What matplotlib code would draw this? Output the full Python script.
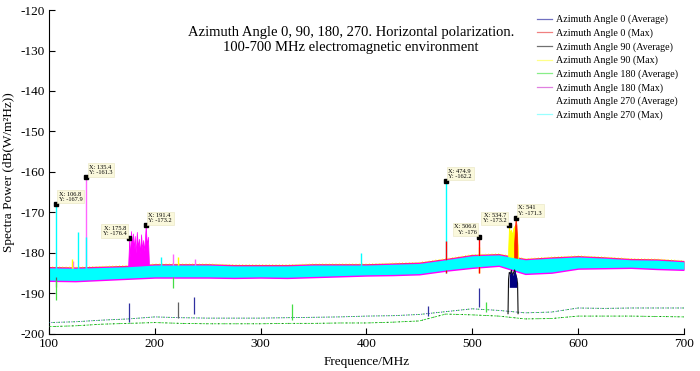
import numpy as np
import matplotlib.pyplot as plt
from matplotlib.lines import Line2D

plt.rcParams['font.family'] = ['Liberation Serif', 'DejaVu Serif']
plt.rcParams['axes.unicode_minus'] = False

# frequency grid of the read-off points (MHz)
freq = [100, 125, 150, 175, 200, 225, 250, 275, 300, 325, 350, 375, 400,
        425, 450, 475, 500, 525, 550, 575, 600, 625, 650, 675, 700]

# noise band of the Max traces (upper / lower edge, dB)
max_top = [-183.7, -183.8, -183.6, -183.4, -183.0, -183.0, -183.0, -183.2, -183.2,
           -183.2, -183.0, -183.0, -183.0, -182.8, -182.6, -181.7, -180.7, -180.5,
           -181.7, -181.3, -181.0, -181.3, -181.7, -181.8, -182.2]
max_bot = [-186.7, -186.8, -186.5, -186.2, -185.9, -185.9, -185.9, -186.0, -185.9,
           -186.0, -185.8, -185.6, -185.4, -185.3, -185.1, -184.2, -183.5, -183.0,
           -185.0, -184.7, -183.7, -183.6, -183.5, -183.8, -184.0]

# Average traces (two tracks, dB)
avg_upper = [-197.2, -197.0, -196.6, -196.3, -195.8, -196.0, -196.1, -196.1, -196.1,
             -196.0, -195.9, -195.8, -195.6, -195.5, -195.2, -194.5, -193.8, -194.2,
             -194.8, -194.6, -193.6, -193.7, -193.6, -193.6, -193.6]
avg_lower = [-198.2, -198.0, -197.6, -197.4, -197.2, -197.4, -197.5, -197.5, -197.5,
             -197.4, -197.4, -197.3, -197.3, -197.1, -196.8, -195.1, -195.3, -195.6,
             -196.3, -196.2, -195.6, -195.6, -195.6, -195.7, -195.8]

# narrow peaks of the Max traces (freq, top)
cyan_f = [106.8, 127.8, 135.0, 206.0, 395.0, 474.9]
cyan_y = [-167.9, -174.8, -176.0, -181.0, -180.0, -162.2]
magenta_f = [135.4, 217.0, 238.0, 123.0]
magenta_y = [-161.3, -180.2, -181.5, -182.0]
red_f = [475.6, 506.6]
red_y = [-177.0, -176.0]
yellow_f = [122.0, 222.0, 506.0]
yellow_y = [-181.5, -181.0, -178.5]

# 176-194 MHz block (180 Max)
mag_block_f = [174.8, 175.8, 176.6, 177.5, 178.4, 179.3, 180.2, 181.0, 182.0, 183.0,
               184.0, 185.0, 186.0, 187.0, 188.0, 189.0, 190.0, 191.4, 192.5, 193.5, 194.5]
mag_block_y = [-183.0, -176.4, -181.0, -174.6, -178.0, -175.2, -179.0, -175.8, -180.0,
               -174.8, -178.5, -176.5, -180.0, -175.4, -179.0, -176.8, -179.5, -173.2,
               -178.0, -176.0, -183.0]
# 534-543 MHz block (90 Max / 0 Max)
yel_block_f = [533.5, 534.7, 535.5, 536.5, 537.5, 538.5, 539.5, 540.5, 541.5, 542.5, 543.5]
yel_block_y = [-182.0, -173.2, -175.0, -174.2, -175.5, -174.0, -173.5, -173.0, -174.0, -176.0, -182.0]
red_block_f = [539.5, 540.3, 541.0, 541.8, 542.5]
red_block_y = [-178.0, -174.0, -171.3, -173.2, -178.0]
# same block in the Average traces
blk_block_f = [533.8, 534.3, 535.0, 536.0, 537.0, 538.0, 539.0, 540.0, 541.0, 542.0, 542.8, 543.3]
blk_block_y = [-195.0, -186.5, -184.8, -185.2, -184.3, -185.6, -184.9, -184.2, -185.2, -186.2, -187.5, -195.0]

# narrow spikes of the Average traces (freq, bottom, top)
navy_sp = [(175.8, -197.0, -192.3), (237.0, -195.0, -190.9), (458.0, -195.5, -193.1),
           (506.2, -193.3, -188.6)]
gray_sp = [(107.0, -188.5, -186.0), (222.0, -196.0, -192.0)]
green_sp = [(106.6, -191.6, -186.7), (216.9, -188.6, -186.0), (330.0, -196.5, -192.6),
            (513.0, -194.5, -192.0)]

# data tips
tips = [(106.8, -167.9, 'left'), (135.4, -161.3, 'left'), (175.8, -176.4, 'right'),
        (191.4, -173.2, 'left'), (474.9, -162.2, 'left'), (506.6, -176.0, 'right'),
        (534.7, -173.2, 'right'), (541.0, -171.3, 'left')]

labels = ['Azimuth Angle 0 (Average)', 'Azimuth Angle 0 (Max)',
          'Azimuth Angle 90 (Average)', 'Azimuth Angle 90 (Max)',
          'Azimuth Angle 180 (Average)', 'Azimuth Angle 180 (Max)',
          'Azimuth Angle 270 (Average)', 'Azimuth Angle 270 (Max)']
colors = ['#0000A0', '#FF0000', '#202020', '#FFFF00', '#22DD22', '#FF00FF', 'white', '#00FFFF']
legend_colors = ['#7070C0', '#F08080', '#707070', '#FFFF88', '#88EE88', '#E080E0', 'white', '#99FFFF']

fig = plt.figure(figsize=(7, 3.71), dpi=100)
ax = fig.add_axes([0.07, 0.1, 0.907, 0.873])

f = np.array(freq)
top = np.array(max_top)
bot = np.array(max_bot)

# Max traces: coloured edges under the cyan band
ax.fill_between(f, top + 0.35, bot - 0.15, color='#FF3030', lw=0, zorder=1)
ax.fill_between(f, top + 0.2, bot - 0.35, color='#FF00FF', lw=0, zorder=1.1)
ax.plot(f, top + 0.3, color='#FFFF00', lw=0.6, ls=(0, (1, 3)), zorder=1.2)

ax.vlines(cyan_f, -185, cyan_y, color='#00FFFF', lw=1.0, zorder=1.5)
ax.vlines(magenta_f, -185, magenta_y, color='#FF66FF', lw=1.0, zorder=1.4)
ax.vlines(yellow_f, -185, yellow_y, color='#FFFF00', lw=1.0, zorder=1.45)
ax.vlines(red_f, -185, red_y, color='#FF0000', lw=1.0, zorder=1.6)
ax.fill_between(mag_block_f, -184, mag_block_y, color='#FF00FF', lw=0.5, zorder=1.3)
ax.fill_between(yel_block_f, -183, yel_block_y, color='#FFFF00', lw=0.5, zorder=1.3)
ax.fill_between(red_block_f, -182, red_block_y, color='#FF2000', lw=0.5, zorder=1.35)

ax.fill_between(f, top, bot, color='#00FFFF', lw=0, zorder=2)

# Average traces
ax.plot(f, avg_upper, color=colors[0], lw=0.6, ls=(0, (1, 2)), zorder=3)
ax.plot(f, avg_upper, color=colors[4], lw=0.6, ls=(1.5, (2, 4)), zorder=3)
ax.plot(f, avg_lower, color=colors[4], lw=0.6, ls=(0, (3, 1.5)), zorder=3)
ax.plot(f, avg_lower, color=colors[2], lw=0.6, ls=(0, (1, 6)), zorder=3)
ax.plot(blk_block_f, blk_block_y, color='#101010', lw=0.8, zorder=3)
ax.fill_between(blk_block_f[2:-2], -188.5, blk_block_y[2:-2], color='#000080', lw=0, zorder=3.1)
for x0, y0, y1 in navy_sp:
    ax.vlines(x0, y0, y1, color='#3030A0', lw=0.9, zorder=3)
for x0, y0, y1 in gray_sp:
    ax.vlines(x0, y0, y1, color='#606060', lw=0.9, zorder=3)
for x0, y0, y1 in green_sp:
    ax.vlines(x0, y0, y1, color='#44DD44', lw=0.9, zorder=3)

# data tips
for x0, y0, side in tips:
    ax.plot(x0, y0, 's', color='black', ms=3.5, zorder=5)
    dx = 2 if side == 'left' else -2
    ax.annotate('X: %g\nY: %g' % (x0, y0), (x0, y0), xytext=(dx, 1.5),
                textcoords='offset points', ha=side, va='bottom', fontsize=4.6,
                linespacing=1.05, zorder=6,
                bbox=dict(boxstyle='square,pad=0.25', fc='#FAF8DC', ec='#E8E4C0', lw=0.4))

ax.set_xlim(100, 700)
ax.set_ylim(-200, -120)
ax.set_xticks([100, 200, 300, 400, 500, 600, 700])
ax.set_yticks(np.arange(-200, -119, 10))
ax.spines['top'].set_visible(False)
ax.spines['right'].set_visible(False)
ax.tick_params(direction='in', length=4, width=0.8, labelsize=9.5, pad=3)
ax.set_xlabel('Frequence/MHz', fontsize=9.5, labelpad=4)
ax.set_ylabel('Spectra Power (dB(W/m²Hz))', fontsize=9.5, labelpad=4)

ax.text(0.476, 0.95, 'Azimuth Angle 0, 90, 180, 270. Horizontal polarization.\n'
        '100-700 MHz electromagnetic environment', transform=ax.transAxes,
        ha='center', va='top', fontsize=10.5, linespacing=1.2)

handles = [Line2D([], [], color=c, lw=0.9) for c in legend_colors]
ax.legend(handles, labels, loc='upper left', bbox_to_anchor=(0.768, 0.985),
          frameon=False, fontsize=7.2, handlelength=1.5, handletextpad=0.45,
          labelspacing=0.4, borderpad=0, borderaxespad=0)

fig.savefig('out.png', dpi=100)
